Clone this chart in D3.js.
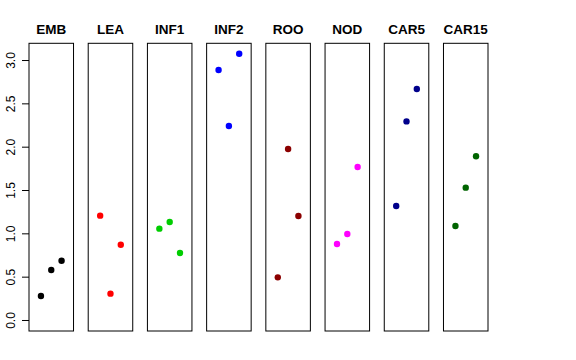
<!DOCTYPE html>
<html>
<head>
<meta charset="utf-8">
<script src="https://cdn.jsdelivr.net/npm/d3@7"></script>
<style>
html,body{margin:0;padding:0;background:#fff;}
svg{display:block;}
</style>
</head>
<body>
<svg id="chart" width="576" height="360"></svg>
<script>
const categories = ["EMB","LEA","INF1","INF2","ROO","NOD","CAR5","CAR15"];
const colors = ["#000000","#FF0000","#00CD00","#0000FF","#8B0000","#FF00FF","#00008B","#006400"];
const EMB   = [0.277, 0.577, 0.684];
const LEA   = [1.204, 0.304, 0.869];
const INF1  = [1.054, 1.131, 0.773];
const INF2  = [2.885, 2.238, 3.073];
const ROO   = [0.492, 1.973, 1.200];
const NOD   = [0.877, 0.992, 1.765];
const CAR5  = [1.315, 2.292, 2.665];
const CAR15 = [1.085, 1.527, 1.889];
const seriesValues = [EMB, LEA, INF1, INF2, ROO, NOD, CAR5, CAR15];
const yTicks = [0, 0.5, 1, 1.5, 2, 2.5, 3];
const xPositions = [1, 2, 3];

const svg = d3.select("#chart");
const font = "'Liberation Sans', Arial, Helvetica, sans-serif";

const band = d3.scaleBand().domain(categories).range([29, 488]).paddingInner(0.248).paddingOuter(0);
const y = d3.scaleLinear().domain([-0.127, 3.193]).range([331, 43.3]);
const x = d3.scaleLinear().domain([-0.16, 4.16]).range([0, band.bandwidth()]);

categories.forEach((cat, i) => {
  const g = svg.append("g").attr("transform", `translate(${band(cat)},0)`);
  g.append("rect")
    .attr("x", 0).attr("y", y.range()[1])
    .attr("width", band.bandwidth()).attr("height", y.range()[0] - y.range()[1])
    .attr("fill", "none").attr("stroke", "#000").attr("stroke-width", 1);
  g.selectAll("circle").data(seriesValues[i]).enter().append("circle")
    .attr("cx", (d, j) => x(xPositions[j]))
    .attr("cy", d => y(d))
    .attr("r", 3.2)
    .attr("fill", colors[i]);
  svg.append("text")
    .attr("x", band(cat) + band.bandwidth() / 2)
    .attr("y", 34)
    .attr("text-anchor", "middle")
    .attr("font-family", font)
    .attr("font-weight", "bold")
    .attr("font-size", 13.5)
    .text(cat);
});

// y axis on the first panel
const axis = d3.axisLeft(y).tickValues(yTicks).tickFormat(d3.format(".1f")).tickSize(7).tickPadding(3);
const ag = svg.append("g").attr("transform", `translate(${band(categories[0])},0)`).call(axis);
ag.select(".domain").remove();
ag.selectAll(".tick line").attr("stroke", "#000");
ag.selectAll(".tick text")
  .attr("font-family", font)
  .attr("font-size", 12)
  .attr("fill", "#000")
  .attr("text-anchor", "middle")
  .attr("transform", "translate(-14,0) rotate(-90)")
  .attr("x", 0).attr("y", 0).attr("dy", null).attr("dx", null);
</script>
</body>
</html>
